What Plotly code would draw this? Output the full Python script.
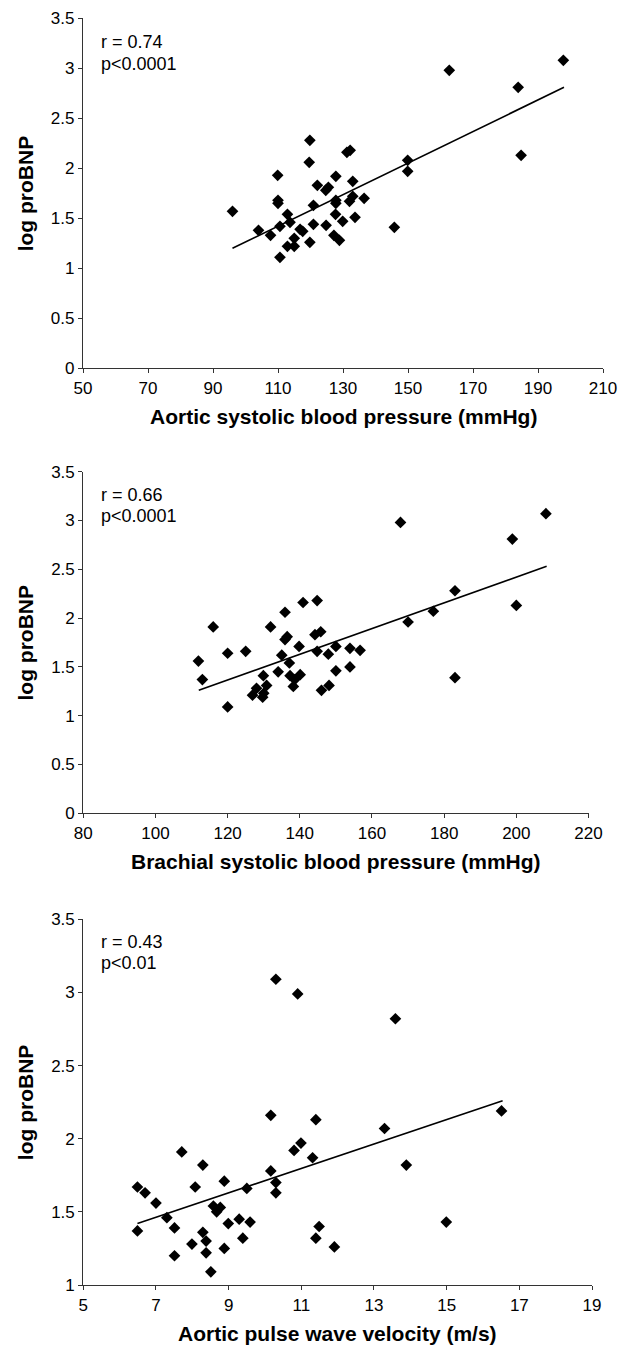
import plotly.graph_objects as go

# ---------------- Data ----------------
# Panel 1: Aortic systolic blood pressure vs log proBNP
aortic_sbp = [96, 104, 107.7, 109.9, 110, 110, 110.6, 110.6, 112.9, 112.9, 113.7, 115, 115,
              116.8, 117.6, 119.8, 119.6, 119.8, 120.9, 120.9, 122.1, 124.7, 125.5, 124.8,
              127.8, 127.8, 127.8, 127.7, 127.2, 128.9, 129.9, 131.2, 132.2, 133, 133, 132,
              133.7, 136.5, 145.8, 149.9, 149.9, 162.7, 183.9, 184.8, 197.8]
aortic_sbp_bnp = [1.57, 1.38, 1.33, 1.93, 1.68, 1.65, 1.42, 1.11, 1.54, 1.22, 1.46, 1.30, 1.22,
                  1.39, 1.37, 2.28, 2.06, 1.26, 1.63, 1.44, 1.83, 1.78, 1.81, 1.43,
                  1.92, 1.68, 1.65, 1.54, 1.33, 1.28, 1.47, 2.16, 2.18, 1.87, 1.72, 1.67,
                  1.51, 1.70, 1.41, 2.08, 1.97, 2.98, 2.81, 2.13, 3.08]
aortic_sbp_fit_x = [96, 198]
aortic_sbp_fit_y = [1.20, 2.81]

# Panel 2: Brachial systolic blood pressure vs log proBNP
brachial_sbp = [111.9, 113, 116, 120, 120, 125, 126.9, 128, 129.9, 129.7, 130, 130.8, 131.9,
                134, 135, 135.9, 135.9, 136.5, 137.1, 137.3, 138.6, 138.2, 139.8, 140.1,
                140.9, 144.8, 144.2, 145.8, 144.8, 146, 147.9, 148.1, 150, 150, 153.9, 153.9,
                156.7, 167.9, 170, 177, 183, 183, 198.9, 200, 208.2]
brachial_sbp_bnp = [1.56, 1.37, 1.91, 1.64, 1.09, 1.66, 1.21, 1.28, 1.41, 1.19, 1.23, 1.31, 1.91,
                    1.45, 1.62, 2.06, 1.78, 1.81, 1.54, 1.41, 1.37, 1.30, 1.71, 1.42,
                    2.16, 2.18, 1.83, 1.86, 1.66, 1.26, 1.63, 1.31, 1.71, 1.46, 1.69, 1.50,
                    1.67, 2.98, 1.96, 2.07, 2.28, 1.39, 2.81, 2.13, 3.07]
brachial_sbp_fit_x = [112, 208.4]
brachial_sbp_fit_y = [1.26, 2.53]

# Panel 3: Aortic pulse wave velocity vs log proBNP
pwv = [6.49, 6.70, 6.49, 7.00, 7.30, 7.51, 7.51, 7.71, 7.99, 8.08, 8.29, 8.29, 8.38, 8.38,
       8.51, 8.58, 8.77, 8.67, 8.88, 8.88, 8.99, 9.29, 9.39, 9.50, 9.59, 10.16, 10.16,
       10.30, 10.30, 10.30, 10.80, 10.90, 10.99, 11.31, 11.40, 11.40, 11.49, 11.91,
       13.29, 13.59, 13.89, 14.99, 16.51]
pwv_bnp = [1.67, 1.63, 1.37, 1.56, 1.46, 1.39, 1.20, 1.91, 1.28, 1.67, 1.82, 1.36, 1.30, 1.22,
           1.09, 1.54, 1.53, 1.50, 1.71, 1.25, 1.42, 1.45, 1.32, 1.66, 1.43, 2.16, 1.78,
           3.09, 1.70, 1.63, 1.92, 2.99, 1.97, 1.87, 2.13, 1.32, 1.40, 1.26,
           2.07, 2.82, 1.82, 1.43, 2.19]
pwv_fit_x = [6.49, 16.54]
pwv_fit_y = [1.42, 2.26]

x_titles = ["Aortic systolic blood pressure (mmHg)",
            "Brachial systolic blood pressure (mmHg)",
            "Aortic pulse wave velocity (m/s)"]
y_title = "log proBNP"
r_labels = ["r = 0.74", "r = 0.66", "r = 0.43"]
p_labels = ["p<0.0001", "p<0.0001", "p<0.01"]

x_ranges = [[50, 210], [80, 220], [5, 19]]
x_dticks = [20, 20, 2]
y_ranges = [[0, 3.5], [0, 3.5], [1, 3.5]]

# ---------------- Layout helpers (pixel geometry) ----------------
W, H = 628, 1345
FONT = "Liberation Sans, Arial, sans-serif"


def fx(p):
    return p / W


def fy(p):
    return 1 - p / H


# plot-area pixel boxes: (left, right, top, bottom)
boxes = [(83, 603, 18.3, 368.3),
         (83.3, 588.5, 471.7, 813.3),
         (83.3, 592, 919.3, 1285)]
ann_pos = [(99, 41.7, 63.5), (98.5, 495, 516.5), (98.5, 941.7, 962.7)]

fig = go.Figure()
series = [(aortic_sbp, aortic_sbp_bnp, aortic_sbp_fit_x, aortic_sbp_fit_y),
          (brachial_sbp, brachial_sbp_bnp, brachial_sbp_fit_x, brachial_sbp_fit_y),
          (pwv, pwv_bnp, pwv_fit_x, pwv_fit_y)]

annotations = []
for i, (xs, ys, fxs, fys) in enumerate(series):
    n = "" if i == 0 else str(i + 1)
    fig.add_trace(go.Scatter(x=xs, y=ys, mode="markers",
                             marker=dict(symbol="diamond", size=9, color="black",
                                         line=dict(width=0)),
                             xaxis="x" + n, yaxis="y" + n, showlegend=False,
                             cliponaxis=False))
    fig.add_trace(go.Scatter(x=fxs, y=fys, mode="lines",
                             line=dict(color="black", width=1.6),
                             xaxis="x" + n, yaxis="y" + n, showlegend=False))
    l, r, t, b = boxes[i]
    axis_common = dict(showline=True, linecolor="#333", linewidth=1.2, ticks="outside",
                       ticklen=4, tickwidth=1.2, tickcolor="#333", showgrid=False,
                       zeroline=False, automargin=False,
                       tickfont=dict(family=FONT, size=17, color="black"))
    fig.update_layout(**{
        "xaxis" + n: dict(domain=[fx(l), fx(r)], anchor="y" + n, range=x_ranges[i],
                          dtick=x_dticks[i], tick0=x_ranges[i][0], **axis_common),
        "yaxis" + n: dict(domain=[fy(b), fy(t)], anchor="x" + n, range=y_ranges[i],
                          dtick=0.5, tick0=0, **axis_common),
    })
    # axis titles
    annotations.append(dict(text="<b>" + x_titles[i] + "</b>", xref="paper", yref="paper",
                            x=fx((l + r) / 2), y=fy(b + 48), xanchor="center", yanchor="middle",
                            showarrow=False, font=dict(family=FONT, size=21, color="black")))
    annotations.append(dict(text="<b>" + y_title + "</b>", xref="paper", yref="paper",
                            x=fx(25), y=fy((t + b) / 2), xanchor="center", yanchor="middle",
                            textangle=-90, showarrow=False,
                            font=dict(family=FONT, size=21, color="black")))
    ax_, r_y, p_y = ann_pos[i]
    annotations.append(dict(text=r_labels[i], xref="paper", yref="paper", x=fx(ax_), y=fy(r_y),
                            xanchor="left", yanchor="middle", showarrow=False,
                            font=dict(family=FONT, size=18, color="black")))
    annotations.append(dict(text=p_labels[i], xref="paper", yref="paper", x=fx(ax_), y=fy(p_y),
                            xanchor="left", yanchor="middle", showarrow=False,
                            font=dict(family=FONT, size=18, color="black")))

fig.update_layout(width=W, height=H, margin=dict(l=0, r=0, t=0, b=0, autoexpand=False),
                  paper_bgcolor="white", plot_bgcolor="white", template="none",
                  annotations=annotations, showlegend=False)

fig.write_html("out.html", config={"displayModeBar": False},
               post_script="document.body.style.margin='0';document.body.style.padding='0';"
                           "document.documentElement.style.overflow='hidden';")
